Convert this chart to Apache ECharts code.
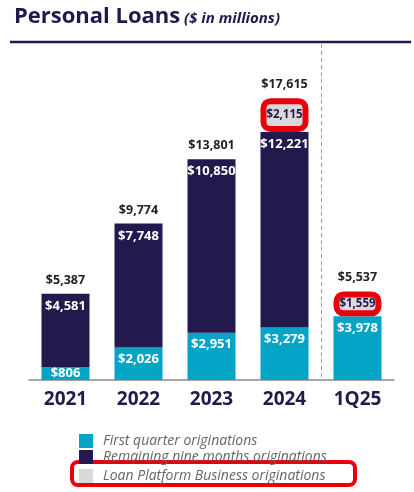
<!DOCTYPE html>
<html><head><meta charset="utf-8">
<script src="https://cdn.jsdelivr.net/npm/echarts@6/dist/echarts.min.js"></script>
<style>html,body{margin:0;padding:0;background:#fff}#c{width:414px;height:492px}</style>
</head><body><div id="c"></div>
<script>
const categories = ['2021', '2022', '2023', '2024', '1Q25'];
const firstQuarter = [806, 2026, 2951, 3279, 3978];
const remainingNine = [4581, 7748, 10850, 12221, 0];
const loanPlatform = [0, 0, 0, 2115, 1559];
const totals = [5387, 9774, 13801, 17615, 5537];
const seriesNames = ['First quarter originations', 'Remaining nine months originations', 'Loan Platform Business originations'];

const NAVY = '#221a4c', CYAN = '#04a4c6', GREY = '#d9d9d9', RED = '#e8000b';
const fmt = v => v ? '$' + Number(v).toLocaleString('en-US') : '';
const chart = echarts.init(document.getElementById('c'), null, {renderer: 'canvas'});
const segLabel = (color, pos, dist, size) => ({
  show: true, position: pos, distance: dist, color: color, fontWeight: 'bold',
  fontSize: size || 13, fontFamily: 'Open Sans', formatter: p => fmt(p.value)
});
const legendText = {fontSize: 14, lineHeight: 14, fontStyle: 'italic', color: '#666', fontFamily: 'Open Sans', padding: [0, 0, 0, 5]};

const option = {
  animation: false,
  grid: {left: 29, right: 20, top: 60, bottom: 112},
  legend: [
    {
      data: seriesNames.slice(0, 2), orient: 'vertical', left: 79, top: 434, itemGap: 2,
      itemWidth: 14, itemHeight: 14, icon: 'rect', padding: 0,
      textStyle: legendText, selectedMode: false
    },
    {
      data: seriesNames.slice(2), orient: 'vertical', left: 79, top: 469, itemGap: 2,
      itemWidth: 14, itemHeight: 14, icon: 'rect', padding: 0,
      textStyle: legendText, selectedMode: false
    }
  ],
  xAxis: {
    type: 'category', data: categories,
    axisLine: {lineStyle: {color: '#8a8a8a', width: 1.5}},
    axisTick: {show: false},
    axisLabel: {color: NAVY, fontWeight: 'bold', fontSize: 19, fontFamily: 'Open Sans', margin: 10}
  },
  yAxis: {type: 'value', min: 0, max: 20000, show: false, splitLine: {show: false}},
  series: [
    {
      name: seriesNames[0], type: 'bar', stack: 'a', barWidth: 48, barGap: '-100%',
      itemStyle: {color: CYAN},
      label: segLabel('#fff', 'insideTop', 5),
      data: firstQuarter.map(v => v < 1000 ? {value: v, label: {position: 'inside'}} : v)
    },
    {
      name: seriesNames[1], type: 'bar', stack: 'a', barWidth: 48, barGap: '-100%',
      itemStyle: {color: NAVY},
      label: segLabel('#fff', 'insideTop', 6),
      data: remainingNine
    },
    {
      name: seriesNames[2], type: 'bar', stack: 'a', barWidth: 48, barGap: '-100%',
      itemStyle: {color: GREY},
      label: segLabel(NAVY, 'inside', 0, 11.5),
      data: loanPlatform.map(v => v > 0
        ? {value: v, itemStyle: {borderColor: RED, borderWidth: 6, borderRadius: 7}}
        : {value: v, itemStyle: {borderWidth: 0}})
    },
    {
      name: 'Total', type: 'bar', barWidth: 48, barGap: '-100%', z: 1, silent: true,
      itemStyle: {color: 'rgba(0,0,0,0)'},
      label: {show: true, position: 'top', distance: 7, color: '#222', fontWeight: 'bold', fontSize: 12.5, fontFamily: 'Open Sans', formatter: p => fmt(p.value)},
      data: totals
    }
  ]
};
chart.setOption(option);

const x4 = chart.convertToPixel({xAxisIndex: 0}, '2024');
const x5 = chart.convertToPixel({xAxisIndex: 0}, '1Q25');
const y0 = chart.convertToPixel({yAxisIndex: 0}, 0);
const dx = Math.round((x4 + x5) / 2) + 0.5;
chart.setOption({
  graphic: [
    {type: 'text', left: 14, top: 6, style: {text: 'Personal Loans', fill: '#1e1a4a', font: 'bold 22px "Open Sans"'}},
    {type: 'text', left: 184, top: 11, style: {text: '($ in millions)', fill: '#1e1a4a', font: 'italic bold 15px "Open Sans"'}},
    {type: 'line', shape: {x1: 10, y1: 42, x2: 411, y2: 42}, style: {stroke: '#1e1a4a', lineWidth: 2.5}},
    {type: 'line', shape: {x1: dx, y1: 44, x2: dx, y2: y0}, style: {stroke: '#a0a0a0', lineWidth: 1, lineDash: [4, 3]}},
    {type: 'rect', shape: {x: 72, y: 462, width: 283, height: 23, r: 6}, style: {fill: 'none', stroke: RED, lineWidth: 4}}
  ]
});
</script></body></html>
